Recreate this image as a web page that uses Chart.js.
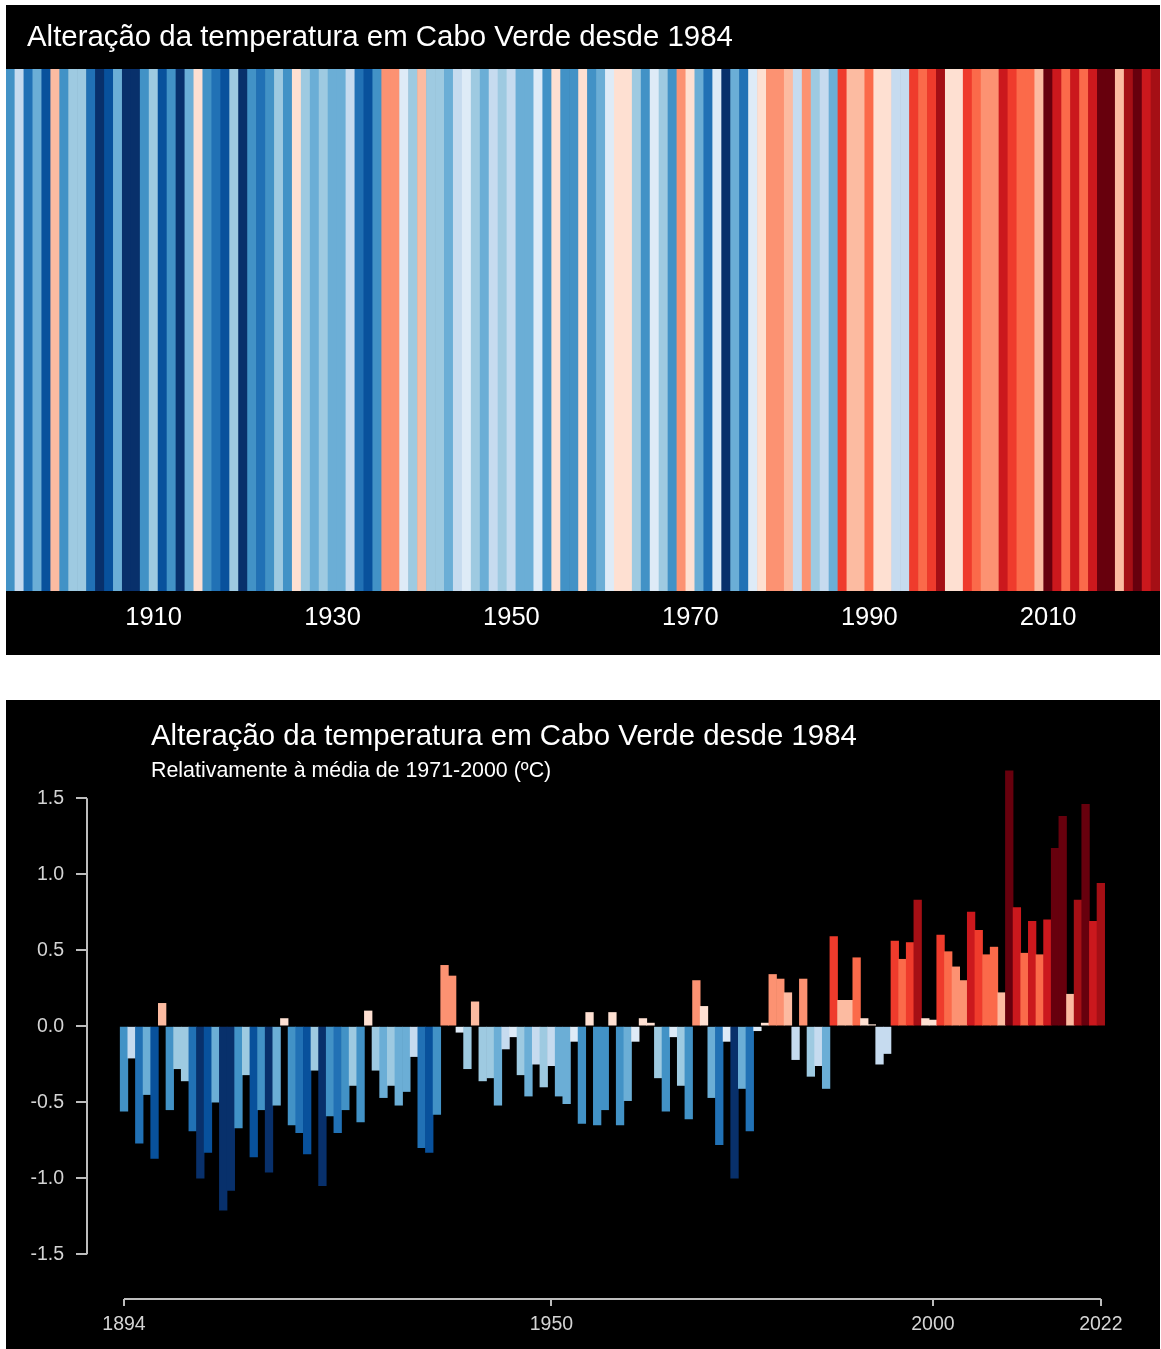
<!DOCTYPE html>
<html>
<head>
<meta charset="utf-8">
<script src="https://cdn.jsdelivr.net/npm/chart.js@4.4.1/dist/chart.umd.min.js"></script>
<style>
  body { margin: 0; background: #fff; width: 1161px; height: 1349px; position: relative; overflow: hidden;
         font-family: "Liberation Sans", Arial, sans-serif; }
  .panel { position: absolute; left: 6px; width: 1154px; background: #000; }
  #top { top: 5px; height: 650px; }
  #bottom { top: 700px; height: 649px; }
  .txt { position: absolute; color: #fff; white-space: nowrap; line-height: 1; }
</style>
</head>
<body>
<div class="panel" id="top"><canvas id="stripes"></canvas></div>
<div class="panel" id="bottom"><canvas id="bars"></canvas></div>
<div class="txt" id="t1" style="left:27px; top:21px; font-size:29.4px;"></div>
<div class="txt" id="t2" style="left:151px; top:720px; font-size:29.4px;"></div>
<div class="txt" id="t3" style="left:151px; top:760px; font-size:21.4px;"></div>
<script>
const title = "Alteração da temperatura em Cabo Verde desde 1984"
const subtitle = "Relativamente à média de 1971-2000 (ºC)"

const years = Array.from({length: 129}, (_, i) => 1894 + i)
// anomaly vs 1971-2000 mean, degC
const anomalies = [
  -0.56, -0.21, -0.77, -0.45, -0.87, 0.15, -0.55, -0.28, -0.36, -0.69,
  -1.00, -0.83, -0.50, -1.21, -1.08, -0.67, -0.32, -0.86, -0.55, -0.96,
  -0.52, 0.05, -0.65, -0.70, -0.84, -0.29, -1.05, -0.59, -0.70, -0.55,
  -0.39, -0.63, 0.10, -0.29, -0.47, -0.39, -0.52, -0.43, -0.20, -0.80,
  -0.83, -0.58, 0.40, 0.33, -0.04, -0.28, 0.16, -0.36, -0.34, -0.52,
  -0.15, -0.07, -0.32, -0.46, -0.25, -0.40, -0.26, -0.46, -0.51, -0.10,
  -0.64, 0.09, -0.65, -0.55, 0.09, -0.65, -0.49, -0.10, 0.05, 0.02,
  -0.34, -0.56, -0.07, -0.39, -0.61, 0.30, 0.13, -0.47, -0.78, -0.10,
  -1.00, -0.41, -0.69, -0.03, 0.02, 0.34, 0.31, 0.22, -0.22, 0.31,
  -0.33, -0.26, -0.41, 0.59, 0.17, 0.17, 0.45, 0.05, 0.01, -0.25,
  -0.18, 0.56, 0.44, 0.55, 0.83, 0.05, 0.04, 0.60, 0.49, 0.39,
  0.30, 0.75, 0.63, 0.47, 0.52, 0.22, 1.68, 0.78, 0.48, 0.69,
  0.47, 0.70, 1.17, 1.38, 0.21, 0.83, 1.46, 0.69, 0.94
]

const stripeTickYears = [1910, 1930, 1950, 1970, 1990, 2010]
const barTickYears = [1894, 1950, 2000, 2022]
const yTickValues = [-1.5, -1.0, -0.5, 0.0, 0.5, 1.0, 1.5]

const blues = ['#deebf7', '#c6dbef', '#9ecae1', '#6baed6', '#4292c6', '#2171b5', '#08519c', '#08306b']
const reds = ['#fee0d2', '#fcbba1', '#fc9272', '#fb6a4a', '#ef3b2c', '#cb181d', '#a50f15', '#67000d']
const step = 0.135

function colorFor(v){
    let idx = Math.min(7, Math.floor(Math.abs(v) / step))
    return v < 0 ? blues[idx] : reds[idx]
}
const colors = anomalies.map(colorFor)

document.getElementById('t1').textContent = title
document.getElementById('t2').textContent = title
document.getElementById('t3').textContent = subtitle

const font = "'Liberation Sans', Arial, sans-serif"
const axisColor = '#bdbdbd'
const labelColor = '#d4d4d4'

// top: warming stripes
new Chart(document.getElementById('stripes'), {
    type: 'bar',
    data: {
        labels: years,
        datasets: [{
            data: anomalies.map(() => [0, 1]),
            backgroundColor: colors,
            borderWidth: 0,
            barPercentage: 1,
            categoryPercentage: 1
        }]
    },
    options: {
        responsive: true,
        maintainAspectRatio: false,
        animation: false,
        layout: { padding: { top: 64, left: 0, right: 0, bottom: 0 } },
        plugins: { legend: { display: false }, tooltip: { enabled: false } },
        scales: {
            x: {
                grid: { display: false, drawTicks: false },
                border: { display: false },
                ticks: {
                    autoSkip: false,
                    maxRotation: 0,
                    padding: 12,
                    color: '#ffffff',
                    font: { family: font, size: 25.5 },
                    callback: function(value, index){
                        let yr = years[index]
                        return stripeTickYears.includes(yr) ? String(yr) : ''
                    }
                },
                afterFit: (scale) => {
                    scale.height = 64
                    scale.paddingLeft = 0
                    scale.paddingRight = 0
                }
            },
            y: { display: false, min: 0, max: 1 }
        }
    }
});

// R-style axis lines that stop at the end ticks
const axisLines = {
    id: 'axisLines',
    afterDraw(chart){
        const {ctx, chartArea, scales} = chart
        ctx.save()
        ctx.strokeStyle = axisColor
        ctx.lineWidth = 2
        ctx.beginPath()
        ctx.moveTo(chartArea.left, scales.y.getPixelForValue(yTickValues[yTickValues.length - 1]))
        ctx.lineTo(chartArea.left, scales.y.getPixelForValue(yTickValues[0]))
        ctx.moveTo(scales.x.getPixelForValue(barTickYears[0]), chartArea.bottom)
        ctx.lineTo(scales.x.getPixelForValue(barTickYears[barTickYears.length - 1]), chartArea.bottom)
        ctx.stroke()
        ctx.restore()
    }
}

// bottom: anomaly bars
new Chart(document.getElementById('bars'), {
    type: 'bar',
    data: {
        datasets: [{
            data: years.map((yr, i) => ({x: yr, y: anomalies[i]})),
            backgroundColor: colors,
            borderWidth: 0,
            barPercentage: 1,
            categoryPercentage: 1
        }]
    },
    plugins: [axisLines],
    options: {
        responsive: true,
        maintainAspectRatio: false,
        animation: false,
        layout: { padding: { top: 67, left: 0, right: 50, bottom: 0 } },
        plugins: { legend: { display: false }, tooltip: { enabled: false } },
        scales: {
            x: {
                type: 'linear',
                offset: false,
                min: 1889.15,
                max: 2023.2,
                grid: { offset: false, drawOnChartArea: false, drawTicks: true, tickLength: 7, color: axisColor, lineWidth: 2 },
                border: { display: false },
                afterBuildTicks: (scale) => { scale.ticks = barTickYears.map(v => ({value: v})) },
                ticks: {
                    padding: 7,
                    maxRotation: 0,
                    color: labelColor,
                    font: { family: font, size: 19.5 },
                    callback: (v) => String(v)
                },
                afterFit: (scale) => {
                    scale.height = 50
                    scale.paddingLeft = 0
                    scale.paddingRight = 0
                }
            },
            y: {
                min: -1.795,
                max: 1.705,
                grid: { drawOnChartArea: false, drawTicks: true, tickLength: 11, color: axisColor, lineWidth: 2 },
                border: { display: false },
                afterBuildTicks: (scale) => { scale.ticks = yTickValues.map(v => ({value: v})) },
                ticks: {
                    padding: 12,
                    color: labelColor,
                    font: { family: font, size: 19.5 },
                    callback: (v) => v.toFixed(1)
                },
                afterFit: (scale) => { scale.width = 81 }
            }
        }
    }
});
</script>
</body>
</html>
